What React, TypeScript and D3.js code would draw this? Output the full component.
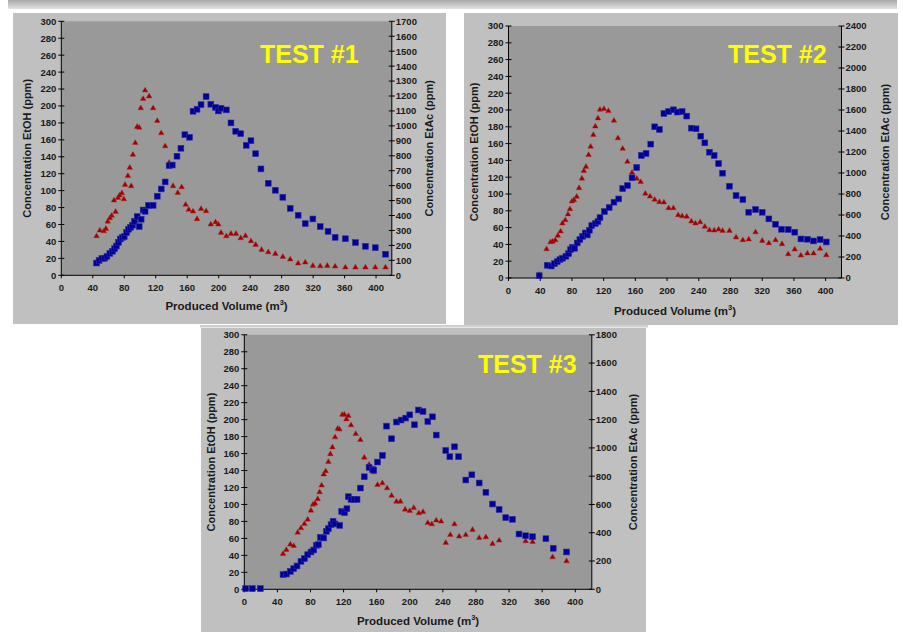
import React from "react";
import * as d3 from "d3";

type P = [number, number];

// ---------- DATA ----------
const xTicks = [0, 40, 80, 120, 160, 200, 240, 280, 320, 360, 400];
const leftTicks = [0, 20, 40, 60, 80, 100, 120, 140, 160, 180, 200, 220, 240, 260, 280, 300];
const xLabel = "Produced Volume (m";
const leftLabel = "Concentration EtOH (ppm)";
const rightLabel = "Concentration EtAc (ppm)";

const test1Title = "TEST #1";
const test1RightTicks = [0, 100, 200, 300, 400, 500, 600, 700, 800, 900, 1000, 1100, 1200, 1300, 1400, 1500, 1600, 1700];
const test1EtOH: P[] = [
  [44.8, 46.9], [49, 53.5], [54, 52.8], [56.7, 55.5], [59, 64], [61.7, 68], [64, 71], [67, 89], [69, 75.6],
  [72, 92], [74, 95], [77, 97.6], [79.5, 90.5], [81, 107.5], [84.6, 118], [87, 127.6], [88.8, 106], [91, 143],
  [94, 157], [96.4, 176], [99, 175], [101, 198], [104, 209], [106.5, 219], [111.6, 212], [116.7, 198], [122, 183],
  [127, 168.5], [132, 153], [137, 133.5], [142, 106], [148, 98], [153, 104.7], [158, 84], [162, 78], [167.4, 76],
  [172.5, 67], [177.6, 79], [184, 76.4], [190, 60.6], [196, 63.4], [199.6, 60.6], [203, 50.8], [209.7, 46.9],
  [215.6, 49.6], [222, 49.6], [228, 44.5], [234, 47.2], [241, 41], [247, 36.6], [254.5, 30.7], [263, 28], [272, 26],
  [281.5, 22.4], [290.9, 19.3], [301, 14.6], [310, 15.7], [319.7, 11.8], [329, 11.4], [338, 11.8], [348, 11],
  [361, 9.8], [373.8, 9.8], [386.5, 9.8], [399, 9.8], [412, 9.8],
];
const test1EtAc: P[] = [
  [44.8, 82], [48, 100], [51.6, 114], [55, 114], [58, 127], [61.7, 147], [65, 161], [67.7, 178], [70, 196],
  [72.7, 221], [75, 243], [77.8, 254], [80, 259], [82.9, 286], [85.4, 308], [88, 321], [90.5, 335], [93, 361],
  [96.4, 393], [99, 326], [101.5, 375], [104, 437], [106.5, 428], [110.8, 468], [116.7, 468], [122, 529], [127, 578],
  [132, 625], [137, 734], [141, 738], [147, 797], [152, 850], [157, 941], [163, 924], [167.4, 1098], [172.5, 1111],
  [177.6, 1142], [184, 1196], [190, 1145], [196, 1124], [199.6, 1100], [203, 1118], [209.7, 1107], [215.6, 1020],
  [221.6, 964], [228, 948], [235, 870], [241, 901], [247, 814], [253.7, 712], [263, 616], [272, 569], [281.5, 522],
  [290.9, 448], [301, 402], [310, 346], [319.7, 377], [329, 326], [339, 294], [348, 254], [361, 245], [373.8, 219],
  [386.5, 194], [399, 185], [412, 141],
];

const test2Title = "TEST #2";
const test2RightTicks = [0, 200, 400, 600, 800, 1000, 1200, 1400, 1600, 1800, 2000, 2200, 2400];
const test2EtOH: P[] = [
  [38.7, 4.4], [48, 35], [53, 43.3], [55.6, 44], [59, 45.7], [62.3, 50.9], [65.7, 56], [68, 65.6], [71.6, 69.5],
  [75, 76.3], [77.5, 82.6], [80, 91.8], [82.5, 93.4], [86, 97.3], [89, 107.7], [92.6, 119], [95, 128], [97.7, 133],
  [101, 147], [103.6, 157], [107, 171], [109.5, 181], [112.8, 190.7], [115.4, 201], [120.4, 201.8], [126, 199.4],
  [133, 188], [138, 167], [144, 154.5], [150, 139], [155.8, 126], [161.7, 118.8], [166.7, 115], [172.6, 101],
  [178.5, 97.7], [184.4, 93.8], [190.3, 91], [196, 90.6], [202, 83.8], [208, 83.8], [214, 75.5], [219, 74.3],
  [224.8, 73.5], [230.7, 68], [235.8, 65.6], [241.7, 67], [247.6, 61.6], [253.5, 57.6], [259.4, 57.2], [265, 58.4],
  [270, 56.8], [278.7, 56.8], [287, 48.9], [295.6, 45.7], [303, 46.5], [311.6, 55.2], [320, 44.9], [328.4, 42],
  [336.8, 45.7], [345, 41], [352.8, 29], [361, 34.6], [368.8, 27.4], [377, 29.8], [384.8, 29.8], [393, 35.4],
  [400.8, 27.8],
];
const test2EtAc: P[] = [
  [38.7, 22], [48.8, 121], [53.9, 114], [58, 137], [61.5, 156], [64.8, 175], [68, 188], [72.4, 207], [75.8, 232],
  [78.3, 270], [80.8, 292], [83.4, 283], [86.7, 334], [90, 366], [93.5, 397], [96.8, 429], [99.4, 410], [102, 455],
  [105, 499], [109.5, 518], [112.8, 537], [115.4, 575], [121, 633], [127, 671], [133, 722], [139, 753], [144, 852],
  [150, 880], [155.8, 954], [161.7, 1052], [167.6, 1167], [173.5, 1186], [179.4, 1275], [184.4, 1440], [190.3, 1415],
  [196, 1567], [202, 1586], [208, 1602], [213, 1580], [219, 1586], [224.8, 1542], [230.7, 1427], [236.6, 1421],
  [242.5, 1351], [247.6, 1287], [253.5, 1198], [259.4, 1167], [265, 1090], [270, 998], [278.7, 874], [287, 785],
  [295.6, 747], [303, 626], [311.6, 652], [320, 626], [328.4, 563], [336.8, 512], [344.4, 464], [352.8, 461],
  [361, 436], [368.8, 372], [377, 369], [384.8, 353], [393, 366], [400.8, 343],
];

const test3Title = "TEST #3";
const test3RightTicks = [0, 200, 400, 600, 800, 1000, 1200, 1400, 1600, 1800];
const test3EtOH: P[] = [
  [46.8, 42.4], [50.8, 47], [55.6, 53.4], [59.7, 51.8], [64.5, 67.5], [68.5, 72.6], [72.6, 77.7], [76.6, 82.8],
  [80.6, 93.4], [83, 100.5], [85.5, 101.7], [88.7, 107], [91, 115], [93.5, 123], [96, 136], [98.4, 139.8],
  [101.6, 150.8], [104, 160], [106.5, 168], [109.7, 179.8], [112.9, 190], [115, 189], [118.5, 206.5], [121, 206.5],
  [123.4, 201], [125.8, 205], [129, 194], [134.7, 183.7], [140.3, 176.7], [145, 155.9], [150.8, 147.6],
  [156.5, 138.6], [161, 123.7], [166.9, 125.6], [172.6, 119.7], [178, 111], [183.9, 104], [188.7, 104],
  [194.4, 94.6], [200, 93], [204.8, 96.6], [211, 90.3], [216, 91.9], [221.8, 78.9], [226.6, 77.3], [232, 81.7],
  [237.9, 80.5], [243.5, 55.4], [249, 64.8], [254, 77.3], [259.7, 62.8], [267.7, 64.8], [275.8, 70.7],
  [283.9, 61.2], [292, 62], [300, 54.2], [308, 58.1], [340, 57.3], [348.4, 56.5], [372.6, 38.5], [389.5, 33.8],
];
const test3EtAc: P[] = [
  [1.6, 5], [9.7, 5], [19.4, 5], [46.8, 104], [50.8, 108], [55.6, 127], [59.7, 146], [63.7, 165], [68.5, 198],
  [72.6, 217], [76.6, 245], [80.6, 264], [83.9, 278], [87.1, 311], [89.5, 316], [92, 367], [96, 363], [99.2, 410],
  [101.6, 429], [104.8, 457], [107.3, 481], [109.7, 462], [115.3, 452], [117.7, 551], [121, 542], [124, 570],
  [125.8, 655], [129, 636], [133, 636], [136.3, 636], [140.3, 716], [145, 796], [150.8, 862], [154.8, 848],
  [156.5, 843], [161, 900], [167, 947], [171.8, 1154], [178, 1065], [183.9, 1183], [189.5, 1197], [195, 1211],
  [200, 1234], [205.6, 1164], [210.5, 1268], [216, 1258], [221.8, 1187], [227.4, 1220], [232, 1091], [243.5, 982],
  [248.4, 938], [254, 1008], [259, 938], [267.7, 773], [275, 810], [283.9, 752], [292, 686], [300, 603], [308, 565],
  [316, 507], [324, 495], [332, 391], [340, 379], [348.4, 372], [364.5, 358], [373.4, 290], [389.5, 264],
];

// ---------- LAYOUT ----------
const FONT = "'Liberation Sans', Arial, sans-serif";
const panels = [
  {
    title: test1Title, etoh: test1EtOH, etac: test1EtAc, rightTicks: test1RightTicks,
    box: { x: 13, y: 13, w: 433, h: 311 }, plot: { x: 61.3, y: 21.3, w: 330.5, h: 254 },
    titleX: 260, titleY: 63, leftLabelX: 27, rightLabelX: 429, xLabelY: 310,
  },
  {
    title: test2Title, etoh: test2EtOH, etac: test2EtAc, rightTicks: test2RightTicks,
    box: { x: 464, y: 13, w: 434, h: 312 }, plot: { x: 508.5, y: 26, w: 333, h: 252 },
    titleX: 728, titleY: 63, leftLabelX: 474, rightLabelX: 885, xLabelY: 315,
  },
  {
    title: test3Title, etoh: test3EtOH, etac: test3EtAc, rightTicks: test3RightTicks,
    box: { x: 201, y: 328, w: 445, h: 310 }, plot: { x: 244.3, y: 334.8, w: 347.5, h: 254.5 },
    titleX: 478, titleY: 373, leftLabelX: 211, rightLabelX: 633, xLabelY: 625,
  },
];

const triPath = "M0,-2.7L2.8,2.1L-2.8,2.1Z";
const TICK_FS = 9.5;

function Panel({ p }: { p: (typeof panels)[number] }) {
  const { plot } = p;
  const x = d3.scaleLinear().domain([0, 420]).range([plot.x, plot.x + plot.w]);
  const yL = d3.scaleLinear().domain([0, 300]).range([plot.y + plot.h, plot.y]);
  const rMax = p.rightTicks[p.rightTicks.length - 1];
  const yR = d3.scaleLinear().domain([0, rMax]).range([plot.y + plot.h, plot.y]);
  const bottom = plot.y + plot.h;
  const right = plot.x + plot.w;
  const cx = plot.x + plot.w / 2;
  const cy = plot.y + plot.h / 2;
  return (
    <g>
      <rect x={p.box.x} y={p.box.y} width={p.box.w} height={p.box.h} fill="#c0c0c0" />
      <rect x={plot.x} y={plot.y} width={plot.w} height={plot.h} fill="#999999" />
      {/* axes */}
      <line x1={plot.x} x2={plot.x} y1={plot.y} y2={bottom} stroke="#000" strokeWidth={1} />
      <line x1={right} x2={right} y1={plot.y} y2={bottom} stroke="#000" strokeWidth={1} />
      <line x1={plot.x} x2={right} y1={bottom} y2={bottom} stroke="#000" strokeWidth={1} />
      {leftTicks.map((t) => (
        <g key={"l" + t}>
          <line x1={plot.x - 3} x2={plot.x + 3} y1={yL(t)} y2={yL(t)} stroke="#000" />
          <text x={plot.x - 5} y={yL(t) + 3.4} textAnchor="end" fontSize={TICK_FS} fontWeight="bold" fill="#1a1a1a" fontFamily={FONT}>{t}</text>
        </g>
      ))}
      {p.rightTicks.map((t) => (
        <g key={"r" + t}>
          <line x1={right - 3} x2={right + 3} y1={yR(t)} y2={yR(t)} stroke="#000" />
          <text x={right + 4} y={yR(t) + 3.4} textAnchor="start" fontSize={TICK_FS} fontWeight="bold" fill="#1a1a1a" fontFamily={FONT}>{t}</text>
        </g>
      ))}
      {xTicks.map((t) => (
        <g key={"x" + t}>
          <line x1={x(t)} x2={x(t)} y1={bottom} y2={bottom + 3} stroke="#000" />
          <text x={x(t)} y={bottom + 15.5} textAnchor="middle" fontSize={TICK_FS} fontWeight="bold" fill="#1a1a1a" fontFamily={FONT}>{t}</text>
        </g>
      ))}
      {/* labels */}
      <text transform={`translate(${p.leftLabelX + 4},${cy}) rotate(-90)`} textAnchor="middle" fontSize={11} fontWeight="bold" fill="#1a1a1a" fontFamily={FONT}>{leftLabel}</text>
      <text transform={`translate(${p.rightLabelX + 4},${cy}) rotate(-90)`} textAnchor="middle" fontSize={11} fontWeight="bold" fill="#1a1a1a" fontFamily={FONT}>{rightLabel}</text>
      <text x={cx} y={p.xLabelY} textAnchor="middle" fontSize={11.5} fontWeight="bold" fill="#1a1a1a" fontFamily={FONT}>
        {xLabel}
        <tspan fontSize={7.5} dy={-5}>3</tspan>
        <tspan dy={5}>)</tspan>
      </text>
      <text x={p.titleX} y={p.titleY} fontSize={25} fontWeight="bold" fill="#ffff00" fontFamily={FONT}>{p.title}</text>
      {/* data */}
      {p.etoh.map((d, i) => (
        <path key={"t" + i} d={triPath} transform={`translate(${x(d[0])},${yL(d[1])})`} fill="#a00000" stroke="#b02020" strokeWidth={0.4} />
      ))}
      {p.etac.map((d, i) => (
        <rect key={"s" + i} x={x(d[0]) - 2.9} y={yR(d[1]) - 2.9} width={5.8} height={5.8} fill="#000099" stroke="#2a2aa0" strokeWidth={0.6} />
      ))}
    </g>
  );
}

export default function App() {
  return (
    <svg width={903} height={632} style={{ position: "absolute", left: 0, top: 0, background: "#fff" }}>
      <defs>
        <linearGradient id="topStrip" x1="0" y1="0" x2="0" y2="1">
          <stop offset="0" stopColor="#a8a8a8" />
          <stop offset="1" stopColor="#e2e2e2" />
        </linearGradient>
      </defs>
      <rect x={0} y={0} width={903} height={632} fill="#fff" />
      <rect x={8} y={0} width={889} height={9} fill="url(#topStrip)" />
      <rect x={200} y={325} width={448} height={2.5} fill="#cfcfcf" />
      {panels.map((p, i) => (
        <Panel key={i} p={p} />
      ))}
    </svg>
  );
}
